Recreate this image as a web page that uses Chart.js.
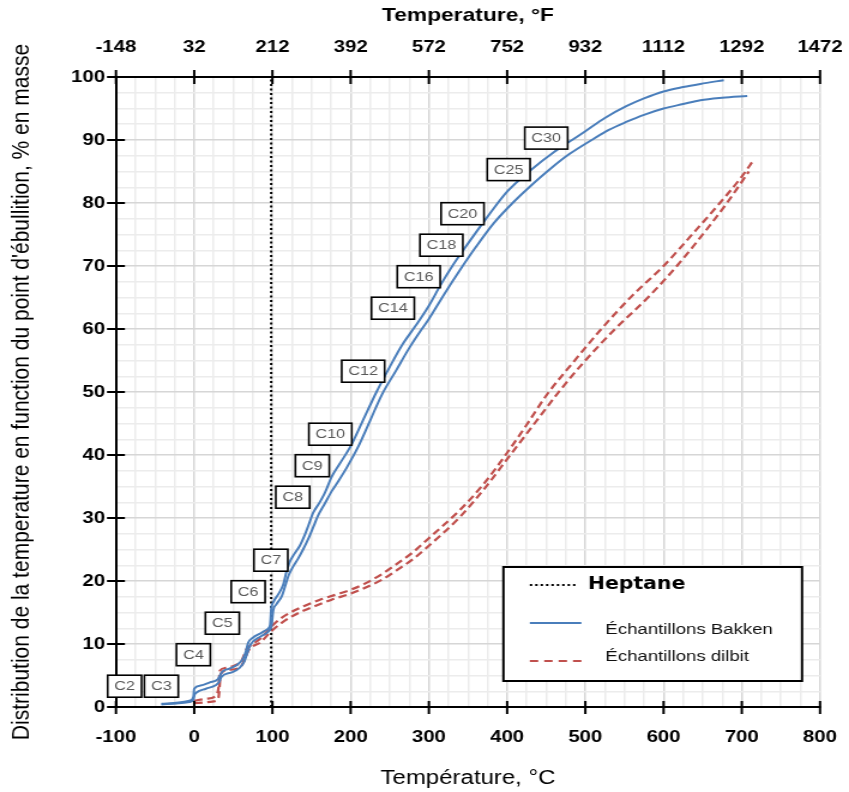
<!DOCTYPE html>
<html>
<head>
<meta charset="utf-8">
<script src="https://cdn.jsdelivr.net/npm/chart.js@4.4.1/dist/chart.umd.min.js"></script>
<style>
  html, body { margin: 0; padding: 0; background: #fff; overflow: hidden; }
  #wrap { width: 708px; height: 792px; transform: scaleX(1.1992); transform-origin: 0 0; }
  canvas { display: block; }
</style>
</head>
<body>
<div id="wrap"><canvas id="c" width="708" height="792"></canvas></div>
<script>
// Boiling-point distribution, % mass vs temperature (°C)
const bakken1Temp = [-42, -20, -6, -1, 0, 8, 20, 30, 33, 36, 45, 55, 62, 66, 69, 75, 85, 93, 97, 98.5, 101, 108, 114, 118, 122, 128, 135, 141, 146, 152, 160, 167, 176, 186, 200, 215, 233, 250, 266, 283, 300, 315, 330, 345, 360, 376, 400, 430, 460, 483, 500, 525, 553, 575, 600, 625, 647, 677];
const bakken1Pct  = [0.5, 0.7, 1.0, 1.6, 2.9, 3.4, 3.9, 4.4, 5.0, 5.6, 6.1, 6.7, 7.6, 8.8, 10.2, 11.0, 11.7, 12.3, 13.0, 15.6, 16.6, 18.0, 19.5, 21.5, 23.0, 24.3, 25.6, 27.2, 28.8, 30.8, 32.4, 34.0, 36.6, 38.6, 41.4, 45.3, 50.0, 54.0, 57.5, 60.5, 63.7, 67.0, 70.0, 72.7, 75.3, 78.0, 81.8, 85.2, 88.1, 90.0, 91.4, 93.5, 95.4, 96.6, 97.7, 98.4, 98.9, 99.5];

const bakken2Temp = [-42, -20, -6, -1, 0, 3, 15, 28, 32, 35, 48, 58, 64, 68, 72, 85, 95, 99, 101, 105, 112, 117, 121, 126, 133, 140, 147, 153, 158, 167, 176, 184, 195, 210, 225, 240, 258, 275, 291, 300, 320, 340, 360, 383, 407, 430, 455, 480, 508, 530, 553, 575, 600, 625, 647, 675, 707];
const bakken2Pct  = [0.4, 0.6, 0.8, 1.1, 1.8, 2.3, 2.9, 3.5, 4.0, 4.8, 5.5, 6.2, 7.2, 8.6, 9.9, 11.2, 12.0, 13.0, 15.3, 16.3, 17.6, 19.5, 21.0, 22.2, 23.6, 25.2, 27.0, 28.8, 30.3, 32.3, 34.3, 35.8, 38.0, 41.4, 45.5, 49.6, 53.4, 57.0, 60.0, 61.6, 65.6, 69.4, 73.0, 76.8, 80.0, 82.7, 85.4, 87.8, 90.0, 91.6, 92.9, 94.0, 95.0, 95.7, 96.3, 96.7, 97.0];

const dilbit1Temp = [0, 15, 28, 31, 33, 40, 52, 60, 63, 67, 75, 85, 99, 110, 123, 140, 160, 180, 200, 220, 240, 260, 280, 300, 320, 340, 370, 398, 425, 451, 485, 519, 560, 600, 640, 672, 700, 715];
const dilbit1Pct  = [1.0, 1.3, 1.8, 3.0, 5.8, 6.2, 6.6, 7.2, 8.0, 9.2, 10.0, 10.9, 12.8, 14.0, 15.0, 16.0, 17.0, 17.8, 18.6, 19.7, 21.1, 22.8, 24.6, 26.8, 29.0, 31.3, 35.4, 40.0, 44.8, 49.6, 54.8, 59.8, 65.3, 70.0, 75.5, 80.0, 84.2, 86.8];

const dilbit2Temp = [0, 25, 31, 34, 45, 60, 64, 69, 85, 100, 125, 150, 175, 200, 220, 240, 260, 280, 300, 320, 340, 370, 404, 435, 466, 500, 538, 580, 617, 650, 681, 709];
const dilbit2Pct  = [0.6, 0.9, 1.5, 5.3, 5.9, 6.5, 7.4, 8.9, 10.3, 12.2, 14.4, 15.8, 17.0, 18.0, 19.0, 20.2, 21.8, 23.5, 25.6, 27.8, 30.2, 34.5, 40.0, 45.0, 50.0, 55.0, 60.0, 65.0, 70.0, 75.0, 80.0, 85.0];

// n-heptane normal boiling point, °C
const heptaneBoilC = 98.4;

// n-alkane markers: name, boiling point (°C), label height (% mass)
const carbonNames    = ['C2', 'C3', 'C4', 'C5', 'C6', 'C7', 'C8', 'C9', 'C10', 'C12', 'C14', 'C16', 'C18', 'C20', 'C25', 'C30'];
const carbonBoilC    = [-89, -42, -1, 36, 69, 98, 126, 151, 174, 216, 254, 287, 316, 343, 402, 450];
const carbonLabelPct = [3.3, 3.3, 8.3, 13.3, 18.3, 23.3, 33.3, 38.3, 43.3, 53.3, 63.3, 68.3, 73.3, 78.3, 85.3, 90.3];

// axis ticks
const tempTicksC = [-100, 0, 100, 200, 300, 400, 500, 600, 700, 800];
const pctTicks   = [0, 10, 20, 30, 40, 50, 60, 70, 80, 90, 100];

const legendLabels = ['Heptane', 'Échantillons Bakken', 'Échantillons dilbit'];

const BLUE = '#4a7ebb';
const RED = '#c0504d';
const GRID_MAJOR = '#d6d6d6';
const GRID_MINOR = '#ececec';
const FONT = '"Liberation Sans", Arial, sans-serif';

const pts = (xs, ys) => xs.map((x, i) => ({ x, y: ys[i] }));

// Crossing tick marks on the left, bottom and top axes
const frameTicks = {
  id: 'frameTicks',
  afterDraw(chart) {
    const { ctx, chartArea: a, scales } = chart;
    ctx.save();
    ctx.strokeStyle = '#000';
    ctx.lineWidth = 2;
    pctTicks.forEach(v => {
      const y = scales.y.getPixelForValue(v);
      ctx.beginPath(); ctx.moveTo(a.left - 7.5, y); ctx.lineTo(a.left + 7.5, y); ctx.stroke();
    });
    tempTicksC.forEach(t => {
      const x = scales.x.getPixelForValue(t);
      ctx.beginPath(); ctx.moveTo(x, a.bottom - 6); ctx.lineTo(x, a.bottom + 7); ctx.stroke();
      ctx.beginPath(); ctx.moveTo(x, a.top - 7); ctx.lineTo(x, a.top + 7); ctx.stroke();
    });
    ctx.restore();
  }
};

// Boxed carbon-number markers placed at each alkane's boiling point
const carbonBoxes = {
  id: 'carbonBoxes',
  afterDatasetsDraw(chart) {
    const { ctx, scales: { x, y } } = chart;
    ctx.save();
    ctx.font = '13.5px ' + FONT;
    ctx.textAlign = 'center';
    ctx.textBaseline = 'middle';
    carbonNames.forEach((name, i) => {
      const cx = x.getPixelForValue(carbonBoilC[i]);
      const cy = y.getPixelForValue(carbonLabelPct[i]);
      const w = ctx.measureText(name).width + 11;
      const h = 22;
      ctx.fillStyle = '#fff';
      ctx.fillRect(cx - w / 2, cy - h / 2, w, h);
      ctx.strokeStyle = '#000';
      ctx.lineWidth = 1.6;
      ctx.strokeRect(cx - w / 2, cy - h / 2, w, h);
      ctx.fillStyle = '#595959';
      ctx.fillText(name, cx, cy + 0.5);
    });
    ctx.restore();
  }
};

// Legend box in the lower-right corner of the plot area
const boxLegend = {
  id: 'boxLegend',
  afterDatasetsDraw(chart) {
    const { ctx, chartArea: a } = chart;
    const right = a.right - 15, bottom = a.bottom - 26;
    const w = 249, h = 114;
    const left = right - w, top = bottom - h;
    ctx.save();
    ctx.fillStyle = '#fff';
    ctx.fillRect(left, top, w, h);
    ctx.strokeStyle = '#000';
    ctx.lineWidth = 2;
    ctx.strokeRect(left, top, w, h);

    const sx = left + 22;
    const rows = [top + 18, top + 56, top + 94];
    // Heptane
    ctx.strokeStyle = '#000'; ctx.lineWidth = 2; ctx.setLineDash([2, 2.5]);
    ctx.beginPath(); ctx.moveTo(sx, rows[0]); ctx.lineTo(sx + 40, rows[0]); ctx.stroke();
    // Bakken
    ctx.setLineDash([]); ctx.strokeStyle = BLUE; ctx.lineWidth = 2;
    ctx.beginPath(); ctx.moveTo(sx, rows[1]); ctx.lineTo(sx + 43, rows[1]); ctx.stroke();
    // dilbit
    ctx.setLineDash([7, 5]); ctx.strokeStyle = RED;
    ctx.beginPath(); ctx.moveTo(sx, rows[2]); ctx.lineTo(sx + 43, rows[2]); ctx.stroke();
    ctx.setLineDash([]);

    ctx.textBaseline = 'middle';
    ctx.textAlign = 'left';
    ctx.fillStyle = '#000';
    ctx.font = 'bold 17px "DejaVu Sans", Verdana, sans-serif';
    ctx.fillText(legendLabels[0], left + 70.5, rows[0]);
    ctx.fillStyle = '#111';
    ctx.font = '15.5px ' + FONT;
    ctx.fillText(legendLabels[1], left + 85, top + 63);
    ctx.fillText(legendLabels[2], left + 85, top + 90);
    ctx.restore();
  }
};

const gridColor = c => (c.tick && Math.abs(c.tick.value % 10) < 1e-9) ? GRID_MAJOR : GRID_MINOR;
const xGridColor = c => (c.tick && Math.abs(c.tick.value % 100) < 1e-9) ? GRID_MAJOR : GRID_MINOR;

new Chart(document.getElementById('c'), {
  type: 'line',
  data: {
    datasets: [
      { label: 'Bakken 1', data: pts(bakken1Temp, bakken1Pct), borderColor: BLUE, borderWidth: 2, pointRadius: 0, cubicInterpolationMode: 'monotone', fill: false },
      { label: 'Bakken 2', data: pts(bakken2Temp, bakken2Pct), borderColor: BLUE, borderWidth: 2, pointRadius: 0, cubicInterpolationMode: 'monotone', fill: false },
      { label: 'dilbit 1', data: pts(dilbit1Temp, dilbit1Pct), borderColor: RED, borderWidth: 2.2, borderDash: [7, 4], pointRadius: 0, cubicInterpolationMode: 'monotone', fill: false },
      { label: 'dilbit 2', data: pts(dilbit2Temp, dilbit2Pct), borderColor: RED, borderWidth: 2.2, borderDash: [7, 4], pointRadius: 0, cubicInterpolationMode: 'monotone', fill: false },
      { label: 'Heptane', data: [{ x: heptaneBoilC, y: 0 }, { x: heptaneBoilC, y: 100 }], borderColor: '#000', borderWidth: 2, borderDash: [2, 2.5], pointRadius: 0, tension: 0, fill: false }
    ]
  },
  options: {
    responsive: false,
    animation: false,
    devicePixelRatio: 1,
    layout: { padding: { left: 0, right: 24.2, top: 0, bottom: 0 } },
    plugins: { legend: { display: false }, tooltip: { enabled: false } },
    scales: {
      x: {
        type: 'linear', position: 'bottom', min: -100, max: 800,
        afterFit(s) { s.height = 85; s.paddingLeft = 0; s.paddingRight = 0; },
        ticks: {
          stepSize: 25, autoSkip: false, maxRotation: 0, padding: 20, color: '#000',
          font: { family: FONT, size: 17, weight: 'bold' },
          callback: v => (Math.abs(v % 100) < 1e-9 ? String(v) : '')
        },
        grid: { drawTicks: false, color: xGridColor, lineWidth: 1.5 },
        border: { color: '#000', width: 2 },
        title: { display: true, text: 'Température, °C', color: '#000', font: { family: FONT, size: 20 }, padding: { top: 0, bottom: 1.5 } }
      },
      x2: {
        type: 'linear', position: 'top', min: -100, max: 800,
        afterFit(s) { s.height = 77; s.paddingLeft = 0; s.paddingRight = 0; },
        ticks: {
          stepSize: 100, autoSkip: false, maxRotation: 0, padding: 19, color: '#000',
          font: { family: FONT, size: 17, weight: 'bold' },
          callback: v => String(Math.round(v * 9 / 5 + 32))
        },
        grid: { display: false, drawTicks: false },
        border: { display: true, color: '#000', width: 2 },
        title: { display: true, text: 'Temperature, °F', color: '#000', font: { family: FONT, size: 19, weight: 'bold' }, padding: { top: 4.5, bottom: 0 } }
      },
      y: {
        type: 'linear', min: 0, max: 100,
        afterFit(s) { s.width = 96.7; s.paddingTop = 0; s.paddingBottom = 0; },
        ticks: {
          stepSize: 2.5, autoSkip: false, padding: 9, color: '#000',
          font: { family: FONT, size: 17, weight: 'bold' },
          callback: v => (Math.abs(v % 10) < 1e-9 ? String(v) : '')
        },
        grid: { drawTicks: false, color: gridColor, lineWidth: 1.5 },
        border: { color: '#000', width: 2 },
        title: { display: true, text: "Distribution de la temperature en function du point d'ébullition, % en masse", color: '#000', font: { family: FONT, size: 21 }, padding: { top: 5.5, bottom: 0 } }
      }
    }
  },
  plugins: [carbonBoxes, boxLegend, frameTicks]
});
</script>
</body>
</html>
